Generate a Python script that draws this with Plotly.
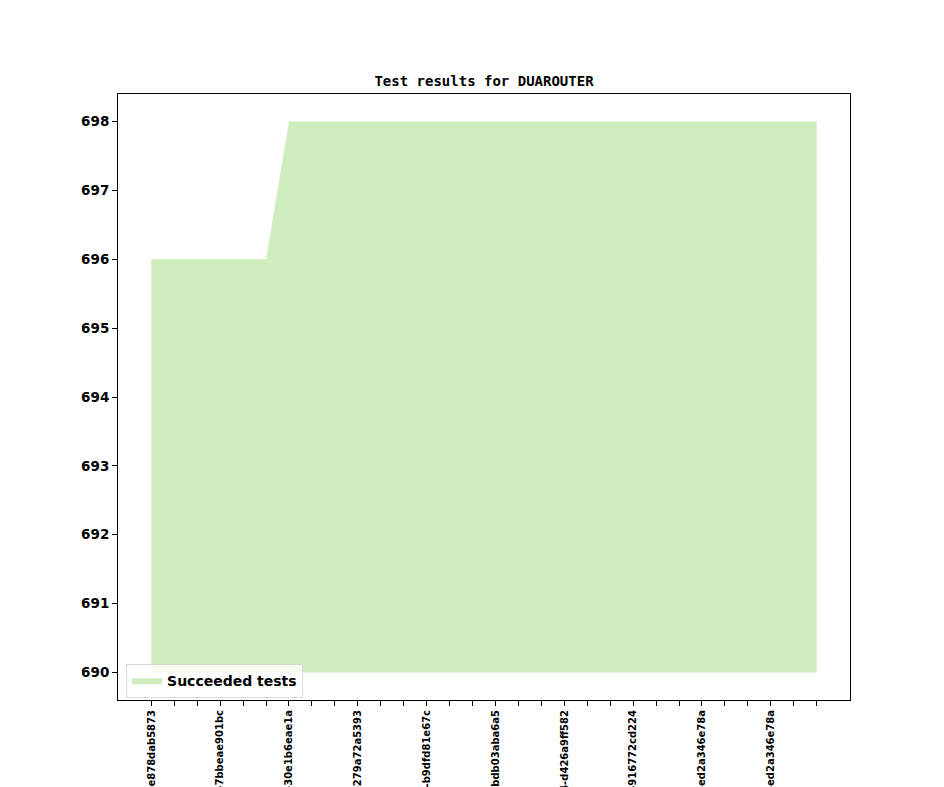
import plotly.graph_objects as go

# one entry per test run (30 runs), only every third run gets a label
run_index = list(range(30))
succeeded = [696, 696, 696, 696, 696, 696] + [698] * 24
baseline = 690

label_positions = [0, 3, 6, 9, 12, 15, 18, 21, 24, 27]
version_labels = [
    "v1_19_0+0312-e878dab5873",
    "v1_19_0+0327-7bbeae901bc",
    "v1_19_0+0341-30e1b6eae1a",
    "v1_19_0+0358-279a72a5393",
    "v1_19_0+0372-b9dfd81e67c",
    "v1_19_0+0390-bdb03aba6a5",
    "v1_19_0+0404-d426a9ff582",
    "v1_19_0+0419-916772cd224",
    "v1_19_0+0433-ed2a346e78a",
    "v1_19_0+0433-ed2a346e78a",
]

fill_color = "#cfedbe"
font_main = "DejaVu Sans"

fig = go.Figure()

# lower edge of the filled area
fig.add_trace(go.Scatter(
    x=run_index, y=[baseline] * len(run_index),
    mode="lines", line=dict(width=0, color=fill_color),
    showlegend=False, hoverinfo="skip"))

fig.add_trace(go.Scatter(
    x=run_index, y=succeeded,
    mode="lines", line=dict(width=0, color=fill_color),
    fill="tonexty", fillcolor=fill_color,
    name="Succeeded tests"))

# page body has an 8px margin, so the figure is a bit smaller than the window
fig.update_layout(
    width=936, height=779,
    margin=dict(l=110, r=94, t=86, b=87, autoexpand=False),
    paper_bgcolor="white", plot_bgcolor="white",
    title=dict(text="Test results for DUAROUTER", x=476 / 936, xanchor="center",
               y=1 - 73 / 779, yanchor="middle",
               font=dict(family="DejaVu Sans Mono", size=14, color="black", weight="bold")),
    legend=dict(x=0.011, y=0.004, xanchor="left", yanchor="bottom",
                bgcolor="rgba(255,255,255,0.8)", bordercolor="#d9d9d9", borderwidth=1,
                font=dict(family=font_main, size=14, color="black", weight="bold")),
    showlegend=True,
)

fig.update_xaxes(
    range=[-1.45, 30.45], automargin=False,
    tickmode="array", tickvals=label_positions, ticktext=version_labels,
    tickangle=-90, ticks="outside", ticklen=5, tickcolor="black",
    minor=dict(tickmode="array", tickvals=run_index, ticks="outside", ticklen=5, tickcolor="black"),
    tickfont=dict(family=font_main, size=10, color="black", weight="bold"),
    showgrid=False, zeroline=False,
    showline=True, mirror=True, linecolor="black", linewidth=1)

fig.update_yaxes(
    range=[689.6, 698.4], automargin=False,
    tickmode="linear", tick0=690, dtick=1,
    ticks="outside", ticklen=5, tickcolor="black",
    tickfont=dict(family=font_main, size=13.5, color="black", weight="bold"),
    showgrid=False, zeroline=False,
    showline=True, mirror=True, linecolor="black", linewidth=1)

fig.write_html("out.html")
